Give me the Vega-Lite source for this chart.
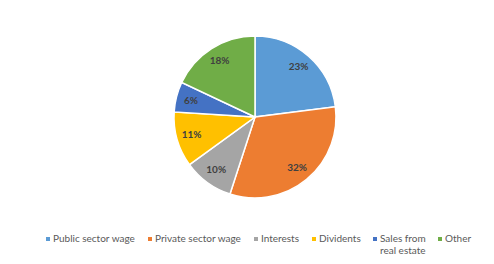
{
  "$schema": "https://vega.github.io/schema/vega-lite/v6.json",
  "width": 478,
  "height": 234,
  "autosize": {"type": "none"},
  "padding": {"left": 16, "top": 0, "right": 0, "bottom": 30},
  "background": "white",
  "config": {"view": {"stroke": null}},
  "data": {
    "values": [
      {"idx": 1, "source": "Public sector wage", "share": 0.23},
      {"idx": 2, "source": "Private sector wage", "share": 0.32},
      {"idx": 3, "source": "Interests", "share": 0.10},
      {"idx": 4, "source": "Dividents", "share": 0.11},
      {"idx": 5, "source": "Sales from real estate", "share": 0.06},
      {"idx": 6, "source": "Other", "share": 0.18}
    ]
  },
  "encoding": {
    "theta": {"field": "share", "type": "quantitative", "stack": true},
    "order": {"field": "idx", "type": "quantitative"},
    "color": {
      "field": "source",
      "type": "nominal",
      "sort": null,
      "scale": {
        "domain": ["Public sector wage", "Private sector wage", "Interests", "Dividents", "Sales from real estate", "Other"],
        "range": ["#5B9BD5", "#ED7D31", "#A5A5A5", "#FFC000", "#4472C4", "#70AD47"]
      },
      "legend": {
        "title": null,
        "orient": "none",
        "direction": "horizontal",
        "columns": 6,
        "legendX": 27,
        "legendY": 234,
        "padding": 0,
        "symbolType": "square",
        "symbolSize": 16,
        "symbolStrokeWidth": 0,
        "labelFont": "Lato",
        "labelFontSize": 10,
        "labelColor": "#595959",
        "labelOffset": 0,
        "columnPadding": 9,
        "labelLimit": 200,
        "labelLineHeight": 15,
        "labelExpr": "datum.label == 'Sales from real estate' ? ['Sales from', 'real estate'] : [datum.label, '']"
      }
    }
  },
  "layer": [
    {
      "mark": {"type": "arc", "outerRadius": 81, "stroke": "white", "strokeWidth": 1.5}
    },
    {
      "mark": {"type": "text", "radius": 66, "font": "Lato", "fontSize": 10, "fontWeight": "bold"},
      "encoding": {
        "text": {"field": "share", "type": "quantitative", "format": ".0%"},
        "color": {"value": "#404040"}
      }
    }
  ]
}
